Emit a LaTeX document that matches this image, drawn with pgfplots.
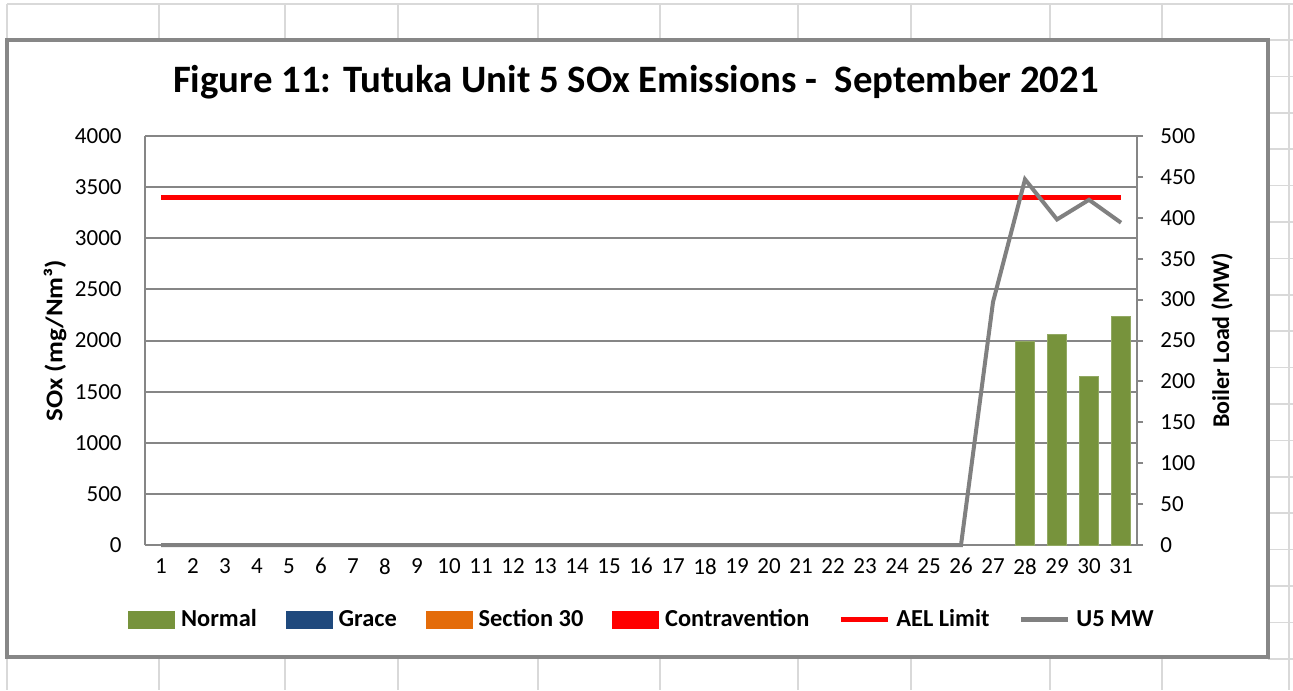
\documentclass[border=0pt]{standalone}
\usepackage{fontspec}
\setmainfont{Carlito}
\usepackage{pgfplots}
\pgfplotsset{compat=1.18}

\definecolor{normal}{HTML}{77933C}
\definecolor{grace}{HTML}{1F497D}
\definecolor{sec}{HTML}{E46C0A}
\definecolor{contra}{HTML}{FF0000}
\definecolor{mw}{HTML}{808080}
\definecolor{axgray}{HTML}{868686}
\definecolor{cell}{HTML}{D9D9D9}
\definecolor{frame}{HTML}{878787}

\begin{document}
\begin{tikzpicture}
% sheet background, 1px = 0.5pt, y from the top
\begin{scope}[x=0.5pt,y=-0.5pt]
  \path[use as bounding box] (0,0) rectangle (1293,690);
  \draw[cell, line width=0.75pt] (7,4) -- (1293,4);
  \foreach \c in {7,159,285,398,538,660,798,911,1050,1162,1289} {
    \draw[cell, line width=0.75pt] (\c,4) -- (\c,40);
    \draw[cell, line width=0.75pt] (\c,657) -- (\c,690);
  }
  \draw[cell, line width=0.75pt] (1289,4) -- (1289,690);
  \foreach \r in {0,...,18} {
    \draw[cell, line width=0.75pt] (1268,40+36.4*\r) -- (1293,40+36.4*\r);
  }
  \draw[frame, fill=white, line width=2pt] (7,40) rectangle (1268,657);
  \node[font=\bfseries\fontsize{19.4}{21}\selectfont] at (636,82) {Figure 11: Tutuka Unit 5 SOx Emissions -\ \ September 2021};
\end{scope}

\begin{axis}[
  at={(72.5pt,-272.5pt)}, anchor=south west,
  scale only axis, width=496pt, height=204.5pt,
  xmin=0.5, xmax=31.5, ymin=0, ymax=4000,
  xtick={1,...,31}, ytick={0,500,...,4000},
  axis x line*=bottom, axis y line*=left,
  axis line style={axgray, line width=1pt, -},
  major tick length=0pt,
  ymajorgrids, grid style={axgray, line width=1pt},
  tick label style={font=\fontsize{11.5}{12}\selectfont},
  /pgf/number format/assume math mode=true,
  /pgf/number format/1000 sep={},
  yticklabel style={inner sep=0pt, xshift=-11.5pt},
  xticklabel style={inner sep=0pt, yshift=-6.5pt},
  ylabel={\scalebox{1.12}[1]{SOx (mg/Nm³)}},
  ylabel style={font=\bfseries\fontsize{12}{13}\selectfont, at={(axis description cs:-0.0907,0.5)}, anchor=center},
  clip=false,
  legend style={at={(axis description cs:0.5,-0.183)}, anchor=center, draw=none, fill=none,
    legend columns=6, font=\bfseries\fontsize{12.2}{13}\selectfont,
    nodes={inner sep=0pt},
    /tikz/every odd column/.append style={column sep=3pt},
    /tikz/every even column/.append style={column sep=14.5pt}},
]
\addplot[ybar, bar width=0.62, bar shift=0pt, fill=normal, draw=normal!80!white, line width=0.5pt, forget plot]
  coordinates {(28,1990) (29,2060) (30,1650) (31,2235)};
\addplot[contra, line width=2.5pt, forget plot] coordinates {(1,3400) (31,3400)};

\addlegendimage{legend image code/.code={\fill[normal] (0pt,-4.25pt) rectangle (23pt,4.25pt);}}
\addlegendentry{Normal}
\addlegendimage{legend image code/.code={\fill[grace] (0pt,-4.25pt) rectangle (23pt,4.25pt);}}
\addlegendentry{Grace}
\addlegendimage{legend image code/.code={\fill[sec] (0pt,-4.25pt) rectangle (23pt,4.25pt);}}
\addlegendentry{Section 30}
\addlegendimage{legend image code/.code={\fill[contra] (0pt,-4.25pt) rectangle (23pt,4.25pt);}}
\addlegendentry{Contravention}
\addlegendimage{legend image code/.code={\draw[contra, line width=2.5pt] (0pt,0pt) -- (23.5pt,0pt);}}
\addlegendentry{AEL Limit}
\addlegendimage{legend image code/.code={\draw[mw, line width=2.5pt] (0pt,0pt) -- (23.5pt,0pt);}}
\addlegendentry{U5 MW}
\end{axis}

\begin{axis}[
  at={(72.5pt,-272.5pt)}, anchor=south west,
  scale only axis, width=496pt, height=204.5pt,
  xmin=0.5, xmax=31.5, ymin=0, ymax=500,
  ytick={0,50,...,500},
  axis x line=none, axis y line*=right,
  axis line style={axgray, line width=1pt, -},
  tick align=outside, major tick length=3pt,
  ytick style={axgray, line width=1pt},
  tick label style={font=\fontsize{11.5}{12}\selectfont},
  /pgf/number format/assume math mode=true,
  yticklabel style={inner sep=0pt, xshift=8.5pt},
  ylabel={Boiler Load (MW)},
  ylabel style={font=\bfseries\fontsize{12}{13}\selectfont, at={(axis description cs:1.0857,0.5)}, anchor=center},
  clip=false,
]
\addplot[mw, line width=2pt] coordinates {
  (1,0) (2,0) (3,0) (4,0) (5,0) (6,0) (7,0) (8,0) (9,0) (10,0)
  (11,0) (12,0) (13,0) (14,0) (15,0) (16,0) (17,0) (18,0) (19,0) (20,0)
  (21,0) (22,0) (23,0) (24,0) (25,0) (26,0)
  (27,297) (28,447) (29,398) (30,422) (31,394)};
\end{axis}
\end{tikzpicture}
\end{document}
